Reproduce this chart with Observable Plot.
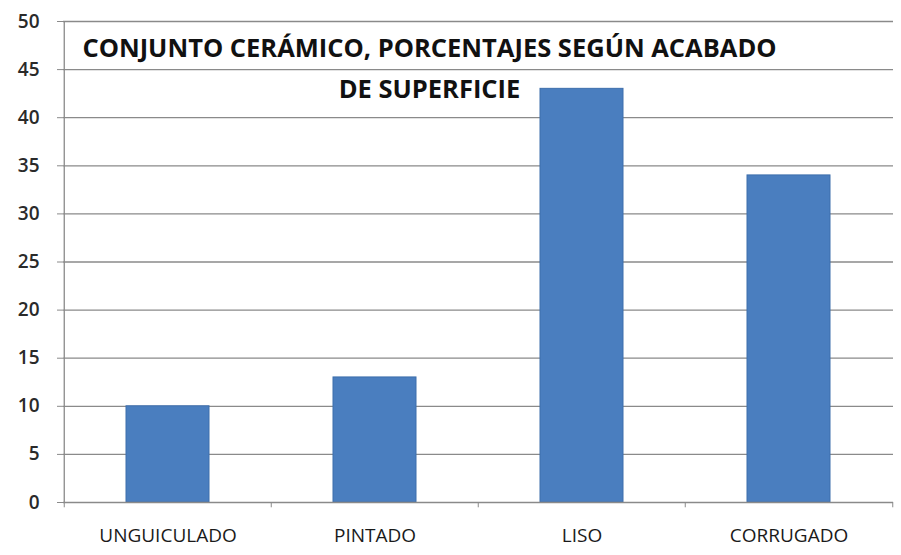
<!DOCTYPE html>
<html>
<head>
<meta charset="utf-8">
<script src="https://cdn.jsdelivr.net/npm/d3@7"></script>
<script src="https://cdn.jsdelivr.net/npm/@observablehq/plot@0.6"></script>
<style>
  body { margin: 0; background: #fff; }
  svg { display: block; }
</style>
</head>
<body>
<div id="chart"></div>
<script>
const categories = ["UNGUICULADO", "PINTADO", "LISO", "CORRUGADO"];
const values = [10, 13, 43, 34];
const yTicks = [0, 5, 10, 15, 20, 25, 30, 35, 40, 45, 50];
const titleLines = ["CONJUNTO CERÁMICO, PORCENTAJES SEGÚN ACABADO", "DE SUPERFICIE"];

const data = categories.map((c, i) => ({ cat: c, value: values[i] }));
const W = 901, H = 555, mL = 63, mR = 8, mT = 21, mB = 53;
const step = (W - mL - mR) / categories.length;

const chart = Plot.plot({
  width: W,
  height: H,
  marginLeft: mL,
  marginRight: mR,
  marginTop: mT,
  marginBottom: mB,
  style: { fontFamily: "'Open Sans', sans-serif", background: "#fff", overflow: "visible" },
  x: { domain: categories, paddingInner: 0.6, paddingOuter: 0.3, label: null },
  y: { domain: [0, 50], ticks: yTicks, label: null },
  marks: [
    Plot.ruleY(yTicks.filter(d => d > 0), { stroke: "#8a8a8a", strokeWidth: 1.3 }),
    Plot.barY(data, { x: "cat", y: "value", fill: "#4a7ebf", stroke: "#3d6eac", strokeWidth: 1 }),
    Plot.ruleY([0], { stroke: "#8a8a8a", strokeWidth: 1.3 }),
    Plot.ruleX(categories, { x: d => d, dx: -step / 2, y1: 0, y2: -0.55, stroke: "#8a8a8a" }),
    Plot.ruleX([categories[categories.length - 1]], { x: d => d, dx: step / 2, y1: 0, y2: -0.55, stroke: "#8a8a8a" }),
    Plot.ruleX([categories[0]], { x: d => d, dx: -step / 2, y1: 0, y2: 50, stroke: "#8a8a8a", strokeWidth: 1.3 }),
    Plot.axisY({ ticks: yTicks, tickSize: 6, tickPadding: 18, fontSize: 19, fontWeight: 600, color: "#2a2a2a", stroke: "#8a8a8a" }),
    Plot.axisX({ tickSize: 0, tickPadding: 26, fontSize: 19, fontWeight: 500, color: "#1a1a1a", style: { letterSpacing: "1.3px" } }),
    Plot.text([titleLines.join("\n")], {
      frameAnchor: "top", dx: -49, dy: 7, lineAnchor: "top", lineHeight: 1.6,
      fontSize: 25.5, fontWeight: "bold", fill: "#111", text: d => d
    })
  ]
});

document.getElementById("chart").appendChild(chart);
</script>
</body>
</html>
